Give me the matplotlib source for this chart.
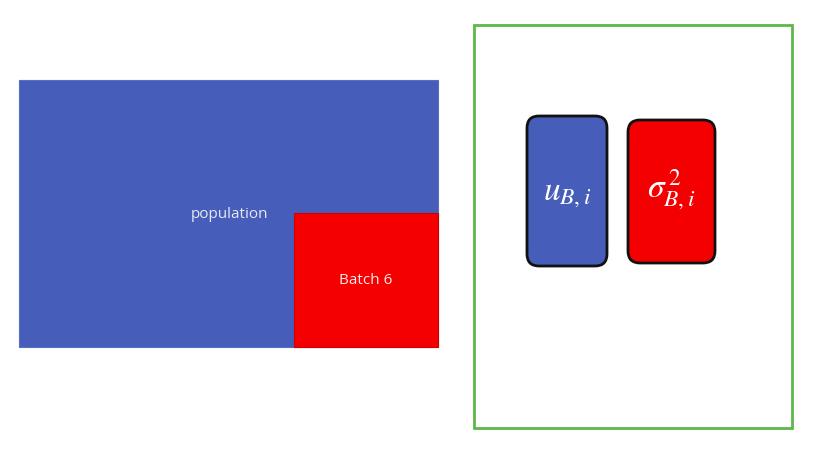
import matplotlib
matplotlib.use("Agg")
import matplotlib.pyplot as plt
from matplotlib.patches import Rectangle, FancyBboxPatch

W, H = 831, 451

# Diagram elements (pixel layout of the slide)
labels = ["population", "Batch 6"]
stat_labels = [r"$u_{B,i}$", r"$\sigma^{\,2}_{B,i}$"]

pop_box = (19, 80, 419, 267)      # x, y, w, h
batch_box = (294, 213, 144, 134)
frame_box = (474, 25, 318, 403)
stat_boxes = [(527, 116, 80, 150), (628, 120, 87, 143)]

blue = "#465EB9"
red = "#F40000"
green = "#5CB848"

fig = plt.figure(figsize=(W / 100, H / 100), dpi=100)
ax = fig.add_axes([0, 0, 1, 1])
ax.set_xlim(0, W)
ax.set_ylim(H, 0)
ax.axis("off")

x, y, w, h = pop_box
ax.add_patch(Rectangle((x, y), w, h, facecolor=blue, edgecolor="#5570C0", lw=0.8))
ax.text(229, 214, labels[0], color="#E6E9F5", fontsize=11, ha="center", va="center",
        family="Open Sans")

x, y, w, h = batch_box
ax.add_patch(Rectangle((x, y), w, h, facecolor=red, edgecolor="#D00000", lw=0.8))
ax.text(x + w / 2, 281, labels[1], color="#FFE8E8", fontsize=11, ha="center", va="center",
        family="Open Sans")

x, y, w, h = frame_box
ax.add_patch(Rectangle((x, y), w, h, facecolor="white", edgecolor=green, lw=2))

for (x, y, w, h), col, lab, ty in zip(stat_boxes, [blue, red], stat_labels, [193, 190]):
    ax.add_patch(FancyBboxPatch((x + 12, y + 12), w - 24, h - 24,
                                boxstyle="round,pad=12", facecolor=col,
                                edgecolor="#111111", lw=2))
    ax.text(x + w / 2, ty, lab, color="white", fontsize=24, ha="center", va="center",
            math_fontfamily="stix")

fig.savefig("out.png", dpi=100, facecolor="white")
